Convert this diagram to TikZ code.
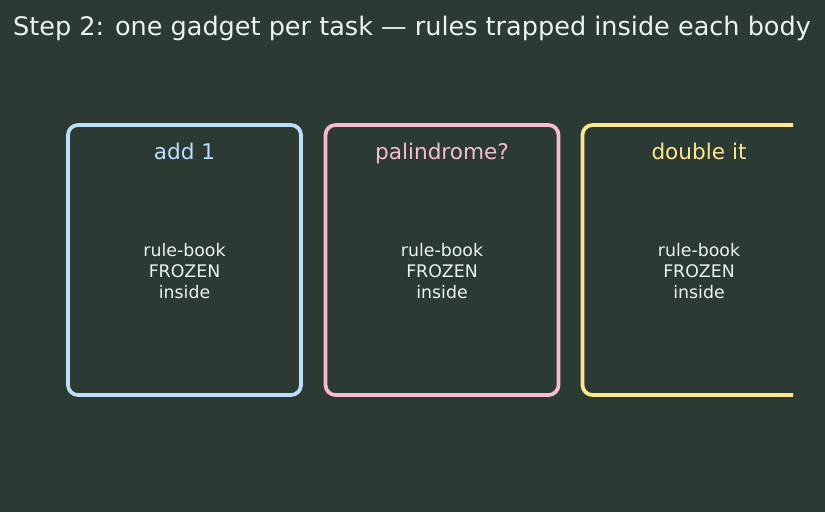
\documentclass[tikz,border=0pt]{standalone}
\usepackage{fontspec}
\setmainfont{DejaVu Sans}
\definecolor{bgdark}{HTML}{2B3A33}
\definecolor{inkwhite}{HTML}{ECF3EC}
\definecolor{gadgetblue}{HTML}{BBDEFB}
\definecolor{gadgetpink}{HTML}{F8BBD0}
\definecolor{gadgetyellow}{HTML}{FFE690}
\tikzset{
  gadget/.style={draw=#1, line width=2.8pt, rounded corners=7.5pt,
    minimum width=174.75pt, minimum height=202.5pt, inner sep=0pt},
  tasklabel/.style={text=#1, font=\fontsize{16.2}{19}\selectfont,
    text height=0.75em, text depth=0.22em},
  frozen/.style={text=inkwhite, align=center,
    font=\fontsize{13}{15.7}\selectfont}
}
\begin{document}
\begin{tikzpicture}[x=0.75pt,y=-0.75pt]
    % Background
    \fill[bgdark] (0,0) rectangle (825,512);
    \useasboundingbox (0,0) rectangle (825,512);

    % Title
    \node[text=inkwhite, font=\fontsize{19.15}{22}\selectfont] (title) at (412,28)
      {Step 2: one gadget per task --- rules trapped inside each body};

    % Gadgets (the last one runs off the plot edge)
    \begin{scope}
      \clip (0,0) rectangle (793,512);
      \node[gadget=gadgetblue] (addbox) at (184.5,260) {};
      \node[gadget=gadgetpink] (palbox) at (442,260) {};
      \node[gadget=gadgetyellow] (dblbox) at (699,260) {};
    \end{scope}

    % Task names
    \node[tasklabel=gadgetblue] (addname) at (184.5,156) {add 1};
    \node[tasklabel=gadgetpink] (palname) at (442,156) {palindrome?};
    \node[tasklabel=gadgetyellow] (dblname) at (699,156) {double it};

    % Frozen rule-books
    \node[frozen] (addrules) at (184.5,271) {rule-book\\FROZEN\\inside};
    \node[frozen] (palrules) at (442,271) {rule-book\\FROZEN\\inside};
    \node[frozen] (dblrules) at (699,271) {rule-book\\FROZEN\\inside};
\end{tikzpicture}
\end{document}
